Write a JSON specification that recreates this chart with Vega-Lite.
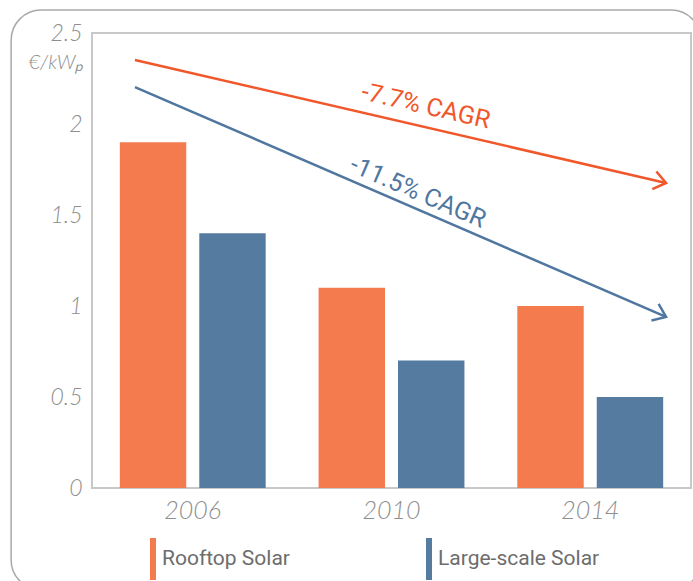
{
  "$schema": "https://vega.github.io/schema/vega-lite/v6.json",
  "width": 599,
  "height": 455,
  "autosize": {"type": "none"},
  "padding": {"left": 92, "top": 33, "right": 2, "bottom": 93},
  "background": "white",
  "config": {
    "view": {"stroke": "#c8c8c8", "strokeWidth": 2},
    "font": "Lato"
  },
  "datasets": {
    "costs": [
      {"year": "2006", "type": "Rooftop Solar", "value": 1.9},
      {"year": "2006", "type": "Large-scale Solar", "value": 1.4},
      {"year": "2010", "type": "Rooftop Solar", "value": 1.1},
      {"year": "2010", "type": "Large-scale Solar", "value": 0.7},
      {"year": "2014", "type": "Rooftop Solar", "value": 1.0},
      {"year": "2014", "type": "Large-scale Solar", "value": 0.5}
    ],
    "trends": [
      {"series": "Rooftop Solar", "x": 2004.86, "y": 2.352},
      {"series": "Rooftop Solar", "x": 2015.5, "y": 1.676},
      {"series": "Large-scale Solar", "x": 2004.86, "y": 2.203},
      {"series": "Large-scale Solar", "x": 2015.5, "y": 0.94}
    ],
    "labels": [
      {"series": "Rooftop Solar", "label": "-7.7% CAGR", "x": 2010.69, "y": 2.099},
      {"series": "Large-scale Solar", "label": "-11.5% CAGR", "x": 2010.53, "y": 1.626}
    ]
  },
  "layer": [
    {
      "data": {"name": "costs"},
      "mark": {"type": "bar"},
      "encoding": {
        "x": {
          "field": "year", "type": "nominal",
          "scale": {"paddingInner": 0.266, "paddingOuter": 0.14},
          "axis": {"title": null, "labelAngle": 0, "domain": false, "ticks": false,
                   "labelFont": "Lato", "labelFontSize": 25, "labelFontStyle": "italic",
                   "labelFontWeight": 300, "labelColor": "#8e8e8e", "labelPadding": 10}
        },
        "xOffset": {
          "field": "type", "type": "nominal",
          "sort": ["Rooftop Solar", "Large-scale Solar"],
          "scale": {"paddingInner": 0.164, "paddingOuter": 0}
        },
        "y": {
          "field": "value", "type": "quantitative",
          "scale": {"domain": [0, 2.5]},
          "axis": {"values": [0, 0.5, 1, 1.5, 2, 2.5], "format": "~g", "grid": false,
                   "domain": false, "ticks": false, "labelFont": "Lato", "labelFontSize": 23,
                   "labelFontStyle": "italic", "labelFontWeight": 300, "labelColor": "#8e8e8e",
                   "labelPadding": 10, "title": "€/kWₚ", "titleAngle": 0, "titleAlign": "right",
                   "titleBaseline": "alphabetic", "titleX": -9, "titleY": 35, "titleFont": "Lato",
                   "titleFontSize": 20, "titleFontStyle": "italic", "titleFontWeight": 300,
                   "titleColor": "#8e8e8e"}
        },
        "color": {
          "field": "type", "type": "nominal",
          "scale": {"domain": ["Rooftop Solar", "Large-scale Solar"], "range": ["#F47B4E", "#557BA0"]},
          "legend": {"title": null, "orient": "none", "legendX": 40, "legendY": 505,
                     "direction": "horizontal", "symbolType": "M-0.143,-1H0.143V1H-0.143Z",
                     "symbolSize": 1764, "symbolStrokeWidth": 0, "labelOffset": -12,
                     "labelFont": "Roboto", "labelFontSize": 21, "labelLimit": 400,
                     "labelColor": "#6d6d6d", "columnPadding": 118, "padding": 0,
                     "symbolOpacity": 1}
        }
      }
    },
    {
      "layer": [
        {
          "data": {"values": [{}]},
          "mark": {"type": "rect", "cornerRadius": 30, "fillOpacity": 0, "fill": "white",
                   "stroke": "#a9a9a9", "strokeWidth": 1.5},
          "encoding": {
            "x": {"datum": 2002.38, "type": "quantitative",
                  "scale": {"domain": [2004, 2016], "nice": false, "zero": false}, "axis": null},
            "x2": {"datum": 2016.2},
            "y": {"datum": 2.626, "type": "quantitative", "scale": {"domain": [0, 2.5]}, "axis": null},
            "y2": {"datum": -0.56}
          }
        },
        {
          "data": {"name": "trends"},
          "transform": [{"filter": "datum.series === 'Rooftop Solar'"}],
          "mark": {"type": "line", "color": "#F0572A", "strokeWidth": 2.5},
          "encoding": {
            "x": {"field": "x", "type": "quantitative",
                  "scale": {"domain": [2004, 2016], "nice": false, "zero": false}, "axis": null},
            "y": {"field": "y", "type": "quantitative", "scale": {"domain": [0, 2.5]}, "axis": null}
          }
        },
        {
          "data": {"name": "trends"},
          "transform": [{"filter": "datum.series === 'Rooftop Solar' && datum.x > 2015"}],
          "mark": {"type": "point", "shape": "M-0.8,-0.6L0,0L-0.8,0.6", "filled": false,
                   "size": 900, "angle": 13, "color": "#F0572A", "strokeWidth": 2.5, "opacity": 1},
          "encoding": {
            "x": {"field": "x", "type": "quantitative",
                  "scale": {"domain": [2004, 2016], "nice": false, "zero": false}, "axis": null},
            "y": {"field": "y", "type": "quantitative", "scale": {"domain": [0, 2.5]}, "axis": null}
          }
        },
        {
          "data": {"name": "labels"},
          "transform": [{"filter": "datum.series === 'Rooftop Solar'"}],
          "mark": {"type": "text", "angle": 13, "color": "#F0572A", "font": "Roboto",
                   "fontSize": 25, "align": "center", "baseline": "middle"},
          "encoding": {
            "x": {"field": "x", "type": "quantitative",
                  "scale": {"domain": [2004, 2016], "nice": false, "zero": false}, "axis": null},
            "y": {"field": "y", "type": "quantitative", "scale": {"domain": [0, 2.5]}, "axis": null},
            "text": {"field": "label"}
          }
        },
        {
          "data": {"name": "trends"},
          "transform": [{"filter": "datum.series === 'Large-scale Solar'"}],
          "mark": {"type": "line", "color": "#4F77A0", "strokeWidth": 2.5},
          "encoding": {
            "x": {"field": "x", "type": "quantitative",
                  "scale": {"domain": [2004, 2016], "nice": false, "zero": false}, "axis": null},
            "y": {"field": "y", "type": "quantitative", "scale": {"domain": [0, 2.5]}, "axis": null}
          }
        },
        {
          "data": {"name": "trends"},
          "transform": [{"filter": "datum.series === 'Large-scale Solar' && datum.x > 2015"}],
          "mark": {"type": "point", "shape": "M-0.8,-0.6L0,0L-0.8,0.6", "filled": false,
                   "size": 900, "angle": 23.4, "color": "#4F77A0", "strokeWidth": 2.5, "opacity": 1},
          "encoding": {
            "x": {"field": "x", "type": "quantitative",
                  "scale": {"domain": [2004, 2016], "nice": false, "zero": false}, "axis": null},
            "y": {"field": "y", "type": "quantitative", "scale": {"domain": [0, 2.5]}, "axis": null}
          }
        },
        {
          "data": {"name": "labels"},
          "transform": [{"filter": "datum.series === 'Large-scale Solar'"}],
          "mark": {"type": "text", "angle": 23.4, "color": "#4F77A0", "font": "Roboto",
                   "fontSize": 25, "align": "center", "baseline": "middle"},
          "encoding": {
            "x": {"field": "x", "type": "quantitative",
                  "scale": {"domain": [2004, 2016], "nice": false, "zero": false}, "axis": null},
            "y": {"field": "y", "type": "quantitative", "scale": {"domain": [0, 2.5]}, "axis": null},
            "text": {"field": "label"}
          }
        }
      ]
    }
  ],
  "resolve": {"scale": {"x": "independent"}, "axis": {"y": "independent"}}
}
